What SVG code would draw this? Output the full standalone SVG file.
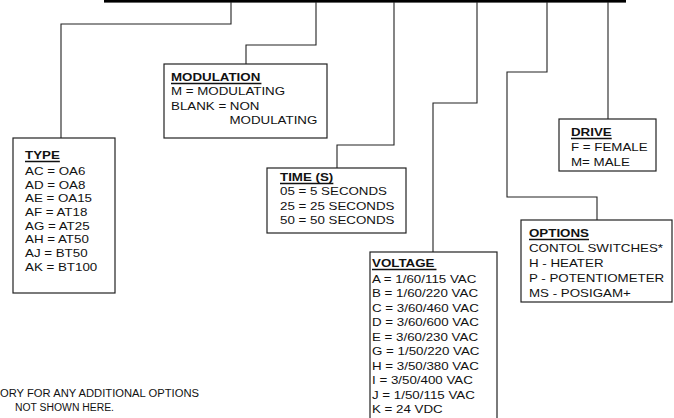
<svg xmlns="http://www.w3.org/2000/svg" width="674" height="418" viewBox="0 0 674 418">
<style>
.box{fill:#fff;stroke:#222;stroke-width:1.2}
.wire{fill:none;stroke:#222;stroke-width:1.1}
.t{font-family:"Liberation Sans",Arial,sans-serif;font-size:11.4px;fill:#111}
.h{font-family:"Liberation Sans",Arial,sans-serif;font-size:11.4px;font-weight:bold;fill:#111}
.ul{stroke:#111;stroke-width:1.5}
.fn{font-family:"Liberation Sans",Arial,sans-serif;font-size:10px;fill:#111}
</style>
<rect x="0" y="0" width="674" height="418" fill="#fff"/>
<g id="connectors">
<rect x="104" y="-1" width="522" height="3.6" fill="#000"/>
<polyline class="wire" points="231,2 231,24 61,24 61,138"/>
<polyline class="wire" points="316,2 316,45 246,45 246,64"/>
<polyline class="wire" points="394,2 394,145 337,145 337,168"/>
<polyline class="wire" points="477,2 477,103 433,103 433,252"/>
<polyline class="wire" points="547,2 547,72 507,72 507,197 597,197 597,220"/>
<polyline class="wire" points="608,2 608,119"/>
</g>
<g id="type">
<rect class="box" x="13" y="138" width="102" height="155"/>
<g transform="translate(25,0) scale(1.17,1)">
<text class="h" x="0" y="159">TYPE</text>
<line class="ul" x1="0" y1="161.5" x2="29.8" y2="161.5"/>
<text class="t" x="0" y="175">AC = OA6</text>
<text class="t" x="0" y="188.7">AD = OA8</text>
<text class="t" x="0" y="202.4">AE = OA15</text>
<text class="t" x="0" y="216.1">AF = AT18</text>
<text class="t" x="0" y="229.8">AG = AT25</text>
<text class="t" x="0" y="243.5">AH = AT50</text>
<text class="t" x="0" y="257.2">AJ = BT50</text>
<text class="t" x="0" y="270.9">AK = BT100</text>
</g>
</g>
<g id="modulation">
<rect class="box" x="164" y="64" width="163" height="74"/>
<g transform="translate(171,0) scale(1.17,1)">
<text class="h" x="0" y="81">MODULATION</text>
<line class="ul" x1="0" y1="83.5" x2="77.3" y2="83.5"/>
<text class="t" x="0" y="95.5">M = MODULATING</text>
<text class="t" x="0" y="110">BLANK = NON</text>
<text class="t" x="50" y="124.5">MODULATING</text>
</g>
</g>
<g id="time">
<rect class="box" x="267" y="168" width="139" height="65"/>
<g transform="translate(280,0) scale(1.17,1)">
<text class="h" x="0" y="181">TIME (S)</text>
<line class="ul" x1="0" y1="183.5" x2="45.6" y2="183.5"/>
<text class="t" x="0" y="195.5">05 = 5 SECONDS</text>
<text class="t" x="0" y="210">25 = 25 SECONDS</text>
<text class="t" x="0" y="224.5">50 = 50 SECONDS</text>
</g>
</g>
<g id="voltage">
<rect class="box" x="370" y="252" width="127" height="180"/>
<g transform="translate(372,0) scale(1.17,1)">
<text class="h" x="0" y="267">VOLTAGE</text>
<line class="ul" x1="0" y1="269.5" x2="55.1" y2="269.5"/>
<text class="t" x="0" y="283">A = 1/60/115 VAC</text>
<text class="t" x="0" y="297.5">B = 1/60/220 VAC</text>
<text class="t" x="0" y="312">C = 3/60/460 VAC</text>
<text class="t" x="0" y="326.5">D = 3/60/600 VAC</text>
<text class="t" x="0" y="341">E = 3/60/230 VAC</text>
<text class="t" x="0" y="355.5">G = 1/50/220 VAC</text>
<text class="t" x="0" y="370">H = 3/50/380 VAC</text>
<text class="t" x="0" y="384.5">I = 3/50/400 VAC</text>
<text class="t" x="0" y="399">J = 1/50/115 VAC</text>
<text class="t" x="0" y="413.5">K = 24 VDC</text>
</g>
</g>
<g id="drive">
<rect class="box" x="559" y="119" width="97" height="52"/>
<g transform="translate(571,0) scale(1.17,1)">
<text class="h" x="0" y="136">DRIVE</text>
<line class="ul" x1="0" y1="138.5" x2="34.8" y2="138.5"/>
<text class="t" x="0" y="151">F = FEMALE</text>
<text class="t" x="0" y="166">M= MALE</text>
</g>
</g>
<g id="options">
<rect class="box" x="521" y="220" width="151" height="82"/>
<g transform="translate(529,0) scale(1.17,1)">
<text class="h" x="0" y="237">OPTIONS</text>
<line class="ul" x1="0" y1="239.5" x2="51.3" y2="239.5"/>
<text class="t" x="0" y="252">CONTOL SWITCHES*</text>
<text class="t" x="0" y="267">H - HEATER</text>
<text class="t" x="0" y="282">P - POTENTIOMETER</text>
<text class="t" x="0" y="297">MS - POSIGAM+</text>
</g>
</g>
<g id="footnote">
<text class="fn" x="0" y="397" textLength="199" lengthAdjust="spacingAndGlyphs">ORY FOR ANY ADDITIONAL OPTIONS</text>
<text class="fn" x="15" y="411" textLength="99" lengthAdjust="spacingAndGlyphs">NOT SHOWN HERE.</text>
</g>
</svg>
